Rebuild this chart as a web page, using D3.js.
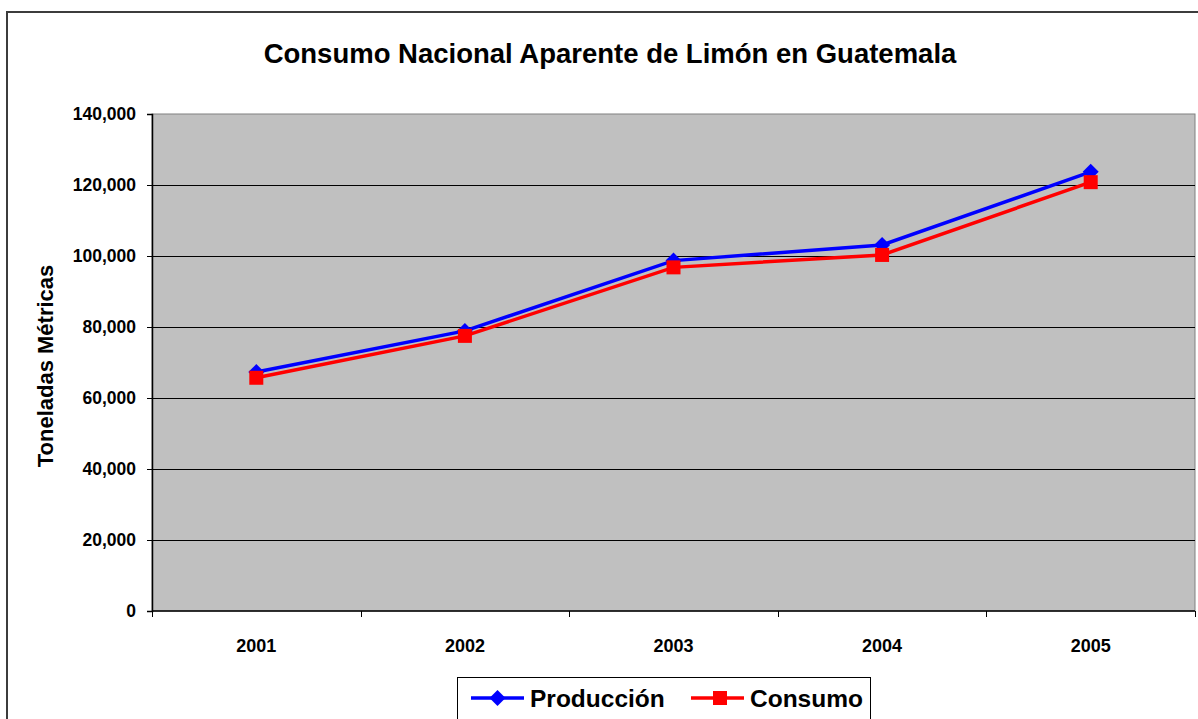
<!DOCTYPE html>
<html>
<head>
<meta charset="utf-8">
<script src="https://cdn.jsdelivr.net/npm/d3@7"></script>
<style>
  body { margin: 0; background: #fff; }
  text { font-family: "Liberation Sans", Arial, sans-serif; font-weight: bold; fill: #000; }
</style>
</head>
<body>
<script>
var years = ["2001", "2002", "2003", "2004", "2005"];
var produccion = [67300, 78900, 98700, 103100, 123700];
var consumo = [65700, 77500, 96800, 100300, 120800];
var yTicks = [0, 20000, 40000, 60000, 80000, 100000, 120000, 140000];

var svgConfig = {
  width: 1198,
  height: 719,
  margin: { top: 114, right: 3, bottom: 108, left: 152 }
};

var svg = d3.select("body").append("svg")
  .attr("width", svgConfig.width)
  .attr("height", svgConfig.height);

// outer chart frame
svg.append("rect")
  .attr("x", 7).attr("y", 12)
  .attr("width", 1200).attr("height", 720)
  .attr("fill", "#fff")
  .attr("stroke", "#3c3c3c")
  .attr("stroke-width", 2);

var x0 = svgConfig.margin.left,
    x1 = svgConfig.width - svgConfig.margin.right,
    yTop = svgConfig.margin.top,
    yBot = svgConfig.height - svgConfig.margin.bottom;

var xScale = d3.scaleBand().domain(years).range([x0, x1]);
var yScale = d3.scaleLinear().domain([0, 140000]).range([yBot, yTop]);

// plot area
svg.append("rect")
  .attr("x", x0).attr("y", yTop)
  .attr("width", x1 - x0).attr("height", yBot - yTop)
  .attr("fill", "#c0c0c0")
  .attr("stroke", "#808080")
  .attr("stroke-width", 1);

// gridlines
svg.append("g")
  .selectAll("line")
  .data(yTicks.filter(function(d) { return d > 0 && d < 140000; }))
  .join("line")
  .attr("x1", x0).attr("x2", x1)
  .attr("y1", function(d) { return Math.round(yScale(d)) + 0.5; })
  .attr("y2", function(d) { return Math.round(yScale(d)) + 0.5; })
  .attr("stroke", "#000")
  .attr("stroke-width", 1);

// y axis
var fmt = d3.format(",");
var yAxis = d3.axisLeft(yScale).tickValues(yTicks).tickFormat(fmt).tickSize(5).tickPadding(11);
var gy = svg.append("g")
  .attr("transform", "translate(" + x0 + ",0)")
  .call(yAxis);
gy.select(".domain").attr("stroke", "#000").attr("stroke-width", 1.5);
gy.selectAll(".tick line").attr("stroke", "#000");
gy.selectAll("text").style("font-size", "17.5px").style("font-family", "Liberation Sans, Arial, sans-serif").style("font-weight", "bold");

// x axis (ticks at category boundaries)
svg.append("line")
  .attr("x1", x0).attr("x2", x1)
  .attr("y1", yBot).attr("y2", yBot)
  .attr("stroke", "#000").attr("stroke-width", 1.5);
var bounds = years.map(function(d) { return xScale(d); }).concat([x1]);
svg.append("g").selectAll("line")
  .data(bounds)
  .join("line")
  .attr("x1", function(d) { return Math.round(d) + 0.5; })
  .attr("x2", function(d) { return Math.round(d) + 0.5; })
  .attr("y1", yBot).attr("y2", yBot + 6)
  .attr("stroke", "#000");
svg.append("g").selectAll("text")
  .data(years)
  .join("text")
  .attr("x", function(d) { return xScale(d) + xScale.bandwidth() / 2; })
  .attr("y", yBot + 41)
  .attr("text-anchor", "middle")
  .style("font-size", "18px")
  .text(function(d) { return d; });

// title
svg.append("text")
  .attr("x", 610).attr("y", 63)
  .attr("text-anchor", "middle")
  .style("font-size", "27.5px")
  .text("Consumo Nacional Aparente de Limón en Guatemala");

// y axis title
svg.append("text")
  .attr("transform", "translate(53," + 366 + ") rotate(-90)")
  .attr("text-anchor", "middle")
  .style("font-size", "22px")
  .text("Toneladas Métricas");

var cx = function(d, i) { return xScale(years[i]) + xScale.bandwidth() / 2; };

var line = d3.line()
  .x(function(d, i) { return cx(d, i); })
  .y(function(d) { return yScale(d); });

var diamond = "M0,-8L8,0L0,8L-8,0Z";

// Producción
svg.append("path")
  .attr("d", line(produccion))
  .attr("fill", "none")
  .attr("stroke", "#0000ff")
  .attr("stroke-width", 3.5);
svg.append("g").selectAll("path")
  .data(produccion)
  .join("path")
  .attr("transform", function(d, i) { return "translate(" + cx(d, i) + "," + yScale(d) + ")"; })
  .attr("d", diamond)
  .attr("fill", "#0000ff");

// Consumo
svg.append("path")
  .attr("d", line(consumo))
  .attr("fill", "none")
  .attr("stroke", "#ff0000")
  .attr("stroke-width", 3.5);
svg.append("g").selectAll("rect")
  .data(consumo)
  .join("rect")
  .attr("x", function(d, i) { return cx(d, i) - 7; })
  .attr("y", function(d) { return yScale(d) - 7; })
  .attr("width", 14).attr("height", 14)
  .attr("fill", "#ff0000");

// legend
var legend = svg.append("g");
legend.append("rect")
  .attr("x", 457.5).attr("y", 677.5)
  .attr("width", 413).attr("height", 42)
  .attr("fill", "#fff")
  .attr("stroke", "#000")
  .attr("stroke-width", 1);
var legendItems = [
  { name: "Producción", color: "#0000ff", x: 471, shape: "diamond" },
  { name: "Consumo", color: "#ff0000", x: 691, shape: "square" }
];
legendItems.forEach(function(it) {
  var ly = 698;
  legend.append("line")
    .attr("x1", it.x).attr("x2", it.x + 53)
    .attr("y1", ly).attr("y2", ly)
    .attr("stroke", it.color).attr("stroke-width", 3.5);
  if (it.shape === "diamond") {
    legend.append("path")
      .attr("transform", "translate(" + (it.x + 26.5) + "," + ly + ")")
      .attr("d", diamond)
      .attr("fill", it.color);
  } else {
    legend.append("rect")
      .attr("x", it.x + 22).attr("y", ly - 7)
      .attr("width", 14).attr("height", 14)
      .attr("fill", it.color);
  }
  legend.append("text")
    .attr("x", it.x + 59).attr("y", ly + 8.5)
    .style("font-size", "24.5px")
    .text(it.name);
});
</script>
</body>
</html>
